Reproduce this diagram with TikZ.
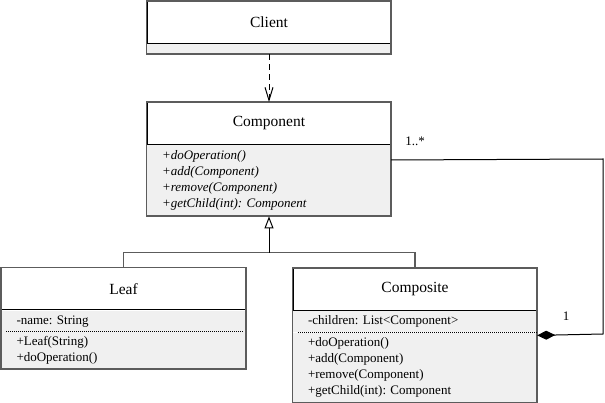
\documentclass[tikz,border=0pt]{standalone}
\usepackage{fontspec}
\setmainfont{Liberation Serif}
\usetikzlibrary{arrows.meta}
\definecolor{framegray}{HTML}{5C5C5C}
\definecolor{sectfill}{HTML}{F0F0F0}
\frenchspacing
\begin{document}
\begin{tikzpicture}[x=1pt,y=-1pt]
			\tikzstyle{cls} = [draw=black, line width=1, fill=white, minimum width=244, minimum height=42, inner sep=0, font=\fontsize{15.5}{18}\selectfont]
			\tikzstyle{sect} = [fill=sectfill, anchor=north, minimum width=244, inner xsep=15, inner ysep=0, text width=214, align=left, font=\fontsize{13}{16}\selectfont]
			\tikzstyle{frame} = [draw=framegray, line width=1.8]
			\tikzstyle{conn} = [draw=black, line width=1]
			\tikzstyle{lbl} = [inner sep=1, font=\fontsize{13}{16}\selectfont]
			\useasboundingbox (0,0) rectangle (605,403);

			\node [cls] (client) at (269,22.5) {Client};
			\node [sect, minimum height=10] (clientops) at (client.south) {};
			\node [cls] (comp) at (269,123.5) {Component};
			\node [sect, minimum height=71] (compops) at (comp.south) {\itshape +doOperation()\\+add(Component)\\+remove(Component)\\+getChild(int): Component};
			\node [cls] (leaf) at (123.5,289) {Leaf};
			\node [sect, minimum height=21] (leafattr) at (leaf.south) {-name: String};
			\node [sect, minimum height=37] (leafops) at (leafattr.south) {+Leaf(String)\\+doOperation()};
			\node [cls] (composite) at (415,289.5) {Composite};
			\node [sect, minimum height=21] (compositeattr) at (composite.south) {-children: List<Component>};
			\node [sect, minimum height=70] (compositeops) at (compositeattr.south) {+doOperation()\\+add(Component)\\+remove(Component)\\+getChild(int): Component};

			\draw [frame] (client.north west) rectangle (clientops.south east);
			\draw [frame] (comp.north west) rectangle (compops.south east);
			\draw [frame] (leaf.north west) rectangle (leafops.south east);
			\draw [frame] (composite.north west) rectangle (compositeops.south east);
			\draw [line width=1, dash pattern=on 1pt off 1pt] ([xshift=5pt]leafattr.south west) -- ([xshift=-3pt]leafattr.south east);
			\draw [line width=1, dash pattern=on 1pt off 1pt] ([xshift=5pt]compositeattr.south west) -- (compositeattr.south east);

			\coordinate (genjoin) at (269,253);
			\coordinate (aggtop) at (603,159);
			\coordinate (aggbot) at (603,334);

			\draw [conn, dash pattern=on 6pt off 4pt, -{Straight Barb[length=13pt,width=8pt]}] (clientops.south) -- (comp.north);
			\draw [frame] (leaf.north) -- ++(0,-15) -| (composite.north);
			\draw [conn, -{Triangle[open,length=12pt,width=9pt]}] (genjoin) -- (compops.south);
			\draw [conn, -{Diamond[length=18pt,width=9pt]}] ([yshift=-15pt]compops.north east) -- (aggtop) -- (aggbot) -- ([yshift=-3pt]compositeattr.south east);

			\node [lbl] (many) at (415,141) {1..*};
			\node [lbl] (one) at (566,316) {1};

		\end{tikzpicture}
\end{document}
